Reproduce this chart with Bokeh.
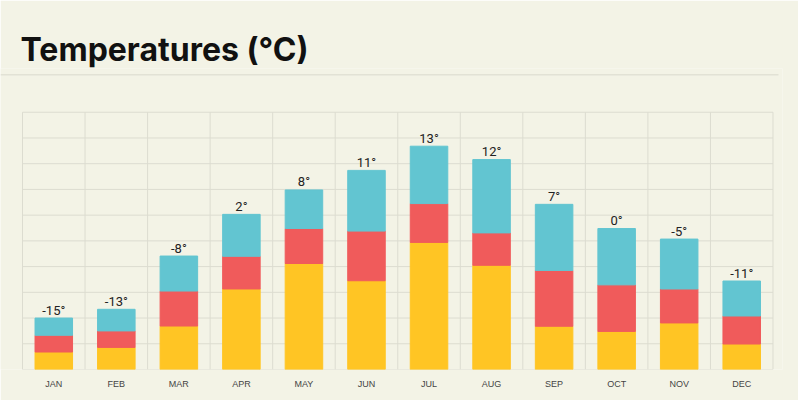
from bokeh.plotting import figure
from bokeh.models import ColumnDataSource, FixedTicker, Range1d, Title
from bokeh.core.properties import value
from bokeh.embed import file_html
from bokeh.resources import INLINE

months = ["JAN", "FEB", "MAR", "APR", "MAY", "JUN", "JUL", "AUG", "SEP", "OCT", "NOV", "DEC"]
temps = [-15, -13, -8, 2, 8, 11, 13, 12, 7, 0, -5, -11]
seg_low = [0.68, 0.86, 1.69, 3.13, 4.12, 3.45, 4.94, 4.05, 1.68, 1.48, 1.81, 0.99]
seg_mid = [0.65, 0.64, 1.36, 1.27, 1.36, 1.93, 1.51, 1.26, 2.17, 1.81, 1.32, 1.09]
seg_high = [0.67, 0.84, 1.36, 1.63, 1.50, 2.36, 2.23, 2.85, 2.57, 2.19, 1.94, 1.36]
grid_rows = 10

BG = "#F3F3E6"
GRID = "#DCDCD0"
RULE = "#E2E2D5"
C_LOW = "#FFC524"
C_MID = "#F05B5B"
C_HIGH = "#62C5D1"

n = len(months)
xs = [i + 0.5 for i in range(n)]
b1 = seg_low
b2 = [a + b for a, b in zip(seg_low, seg_mid)]
b3 = [a + b for a, b in zip(b2, seg_high)]

src = ColumnDataSource(dict(
    x=xs, zero=[0] * n, b1=b1, b2=b2, b3=b3,
    lab=[f"{t}°" for t in temps],
))

p = figure(width=798, height=400, output_backend="svg", toolbar_location=None,
           x_range=Range1d(-0.352, 12.152), y_range=Range1d(0, 11.7),
           min_border_left=0, min_border_right=16, min_border_top=68, min_border_bottom=31)
p.background_fill_color = BG
p.border_fill_color = BG
p.outline_line_color = None
p.grid.visible = False

# grid lines limited to the chart area
p.segment(x0=list(range(n + 1)), x1=list(range(n + 1)), y0=[0] * (n + 1), y1=[grid_rows] * (n + 1),
          line_color=GRID, line_width=1)
p.segment(x0=[0] * (grid_rows + 1), x1=[n] * (grid_rows + 1), y0=list(range(grid_rows + 1)),
          y1=list(range(grid_rows + 1)), line_color=GRID, line_width=1)

# rule under the title
p.segment(x0=[-0.352], x1=[12.088], y0=[11.456], y1=[11.456], line_color=RULE, line_width=1.5)

p.vbar(x="x", bottom="zero", top="b1", width=0.6, color=C_LOW, source=src)
p.vbar(x="x", bottom="b1", top="b2", width=0.6, color=C_MID, source=src)
p.vbar(x="x", bottom="b2", top="b3", width=0.6, color=C_HIGH, source=src)

p.text(x="x", y="b3", text="lab", source=src, text_align="center", text_baseline="alphabetic",
       y_offset=-8, text_font=value("Roboto"), text_font_size="13px", text_color="#222222")

p.yaxis.visible = False
ax = p.xaxis[0]
ax.ticker = FixedTicker(ticks=xs)
ax.major_label_overrides = {x: m for x, m in zip(xs, months)}
ax.axis_line_color = None
ax.major_tick_line_color = None
ax.minor_tick_line_color = None
ax.major_tick_out = 0
ax.major_tick_in = 0
ax.major_label_standoff = 9
ax.major_label_text_font = "Liberation Sans"
ax.major_label_text_font_size = "9px"
ax.major_label_text_color = "#444444"

p.title = Title(text="Temperatures (°C)", align="left", offset=20, standoff=0,
                text_font="Inter", text_font_size="32px", text_font_style="bold",
                text_color="#111111")

open("out.html", "w").write(file_html(p, INLINE))
